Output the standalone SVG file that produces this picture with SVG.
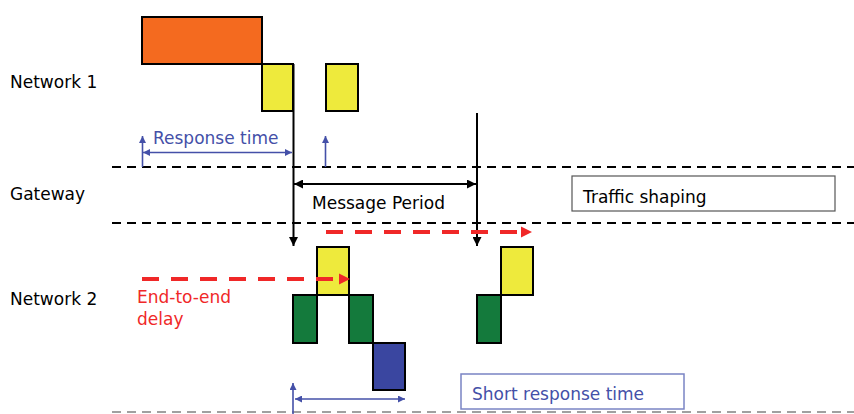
<svg xmlns="http://www.w3.org/2000/svg" width="854" height="414" viewBox="0 0 854 414">
<defs>
<style>
text{font-family:"DejaVu Sans","Liberation Sans",sans-serif;font-size:17px}
.blk{stroke:#000;stroke-width:2}
.dash{stroke:#000;stroke-width:2;stroke-dasharray:9,6;fill:none}
.blue{stroke:#4450a8;stroke-width:1.6;fill:none}
.red{stroke:#f02828;stroke-width:4;stroke-dasharray:17,12;fill:none}
.ln{stroke:#000;stroke-width:2;fill:none}
</style>
<marker id="ab" viewBox="0 0 10 10" refX="10" refY="5" markerWidth="7" markerHeight="7" markerUnits="userSpaceOnUse" orient="auto-start-reverse"><path d="M0,0L10,5L0,10z" fill="#4450a8"/></marker>
<marker id="ak" viewBox="0 0 10 10" refX="10" refY="5" markerWidth="9" markerHeight="9" markerUnits="userSpaceOnUse" orient="auto-start-reverse"><path d="M0,0L10,5L0,10z" fill="#000"/></marker>
<marker id="ar" viewBox="0 0 10 10" refX="10" refY="5" markerWidth="11" markerHeight="11" markerUnits="userSpaceOnUse" orient="auto"><path d="M0,0L10,5L0,10z" fill="#f02828"/></marker>
</defs>
<rect width="854" height="414" fill="#fff"/>
<g id="labels">
<text x="10" y="88">Network 1</text>
<text x="10" y="200">Gateway</text>
<text x="10" y="305">Network 2</text>
</g>
<g id="lanes">
<line class="dash" x1="112" y1="167" x2="854" y2="167"/>
<line class="dash" x1="112" y1="223" x2="854" y2="223"/>
<line x1="112" y1="412" x2="854" y2="412" stroke="#a0a0a0" stroke-width="2" stroke-dasharray="9,6"/>
</g>
<g id="net1-frames">
<rect x="142" y="17" width="120" height="47" fill="#f46a1f" class="blk"/>
<rect x="262" y="64" width="31" height="47" fill="#eeea3c" class="blk"/>
<rect x="326" y="64" width="32" height="47" fill="#eeea3c" class="blk"/>
</g>
<g id="net2-frames">
<rect x="317" y="247" width="32" height="48" fill="#eeea3c" class="blk"/>
<rect x="293" y="295" width="24" height="48" fill="#147a3c" class="blk"/>
<rect x="349" y="295" width="24" height="48" fill="#147a3c" class="blk"/>
<rect x="373" y="343" width="32" height="47" fill="#3a46a0" class="blk"/>
<rect x="501" y="247" width="32" height="48" fill="#eeea3c" class="blk"/>
<rect x="477" y="295" width="24" height="48" fill="#147a3c" class="blk"/>
</g>
<g id="traffic-shaping">
<rect x="572" y="176" width="263" height="35" fill="#fff" stroke="#555" stroke-width="1.2"/>
<text x="583" y="203">Traffic shaping</text>
</g>
<g id="short-response">
<rect x="461" y="374" width="223" height="35" fill="#fff" stroke="#7a84c4" stroke-width="1.5"/>
<text x="472" y="400" fill="#4450a8">Short response time</text>
</g>
<g id="connectors">
<line class="ln" x1="293.5" y1="64" x2="293.5" y2="246" marker-end="url(#ak)"/>
<line class="ln" x1="477" y1="113" x2="477" y2="246" marker-end="url(#ak)"/>
<line class="ln" x1="294" y1="184" x2="476" y2="184" marker-start="url(#ak)" marker-end="url(#ak)"/>
<line class="blue" x1="143" y1="152.5" x2="292" y2="152.5" marker-start="url(#ab)" marker-end="url(#ab)"/>
<line class="blue" x1="142.5" y1="167" x2="142.5" y2="136" marker-end="url(#ab)"/>
<line class="blue" x1="325.5" y1="167" x2="325.5" y2="136" marker-end="url(#ab)"/>
<line class="blue" x1="293" y1="414" x2="293" y2="383" marker-end="url(#ab)"/>
<line class="blue" x1="295" y1="399" x2="405" y2="399" marker-start="url(#ab)" marker-end="url(#ab)"/>
<line class="red" x1="326" y1="232" x2="522" y2="232"/>
<path d="M521,226.5L532,232L521,237.5z" fill="#f02828"/>
<line class="red" x1="142" y1="279" x2="340" y2="279"/>
<path d="M339,273.5L350,279L339,284.5z" fill="#f02828"/>
</g>
<g id="connector-labels">
<text x="153" y="144" fill="#4450a8">Response time</text>
<text x="312" y="209">Message Period</text>
<text x="137" y="303" fill="#f02828">End-to-end</text>
<text x="137" y="325" fill="#f02828">delay</text>
</g>
</svg>
